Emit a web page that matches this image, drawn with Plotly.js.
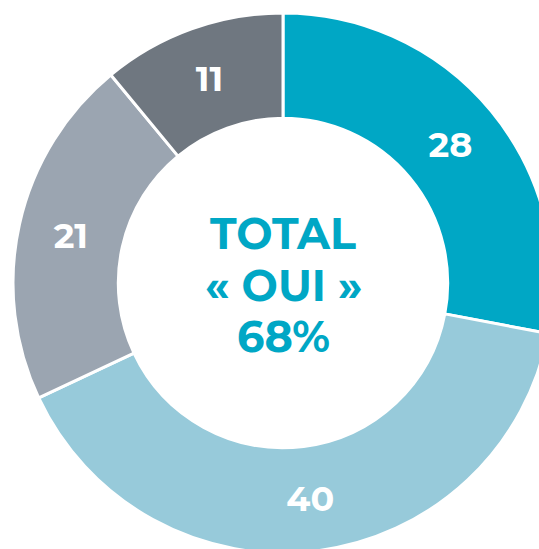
<!DOCTYPE html>
<html>
<head>
<meta charset="utf-8">
<script src="https://cdn.plot.ly/plotly-3.0.1.min.js"></script>
<style>
html,body{margin:0;padding:0;overflow:hidden;background:#fff;width:539px;height:549px;}
#chart{position:absolute;left:0;top:0;width:566px;height:566px;}
</style>
</head>
<body>
<div id="chart"></div>
<script>
const categories = ["A", "B", "C", "D"];
const values = [28, 40, 21, 11];
const colors = ["#00a7c5", "#97cada", "#9ba5b1", "#6f7780"];
const centerLines = ["TOTAL", "« OUI »", "68%"];

const W = 566, C = 283, R = 270;
const font = "Montserrat, 'Open Sans', sans-serif";

const trace = {
  type: "pie",
  labels: categories,
  values: values,
  sort: false,
  direction: "clockwise",
  rotation: 0,
  hole: 0.61,
  domain: {x: [(C - R) / W, (C + R) / W], y: [(C - R) / W, (C + R) / W]},
  marker: {colors: colors, line: {color: "#ffffff", width: 3}},
  text: values.map(String),
  textinfo: "text",
  textposition: "inside",
  insidetextorientation: "horizontal",
  textfont: {family: font, size: 35, color: "#ffffff", weight: 700},
  hoverinfo: "none",
  showlegend: false
};

const ys = [233, 285, 336];
const annotations = centerLines.map((t, i) => ({
  text: t, x: 0.5, y: 1 - ys[i] / W, xref: "paper", yref: "paper",
  showarrow: false, xanchor: "center", yanchor: "middle",
  font: {family: font, size: 43, color: "#00a7c5", weight: 700}
}));

Plotly.newPlot("chart", [trace], {
  width: W, height: W,
  margin: {l: 0, r: 0, t: 0, b: 0},
  paper_bgcolor: "#ffffff",
  showlegend: false,
  annotations: annotations
}, {staticPlot: true, displayModeBar: false});
</script>
</body>
</html>
